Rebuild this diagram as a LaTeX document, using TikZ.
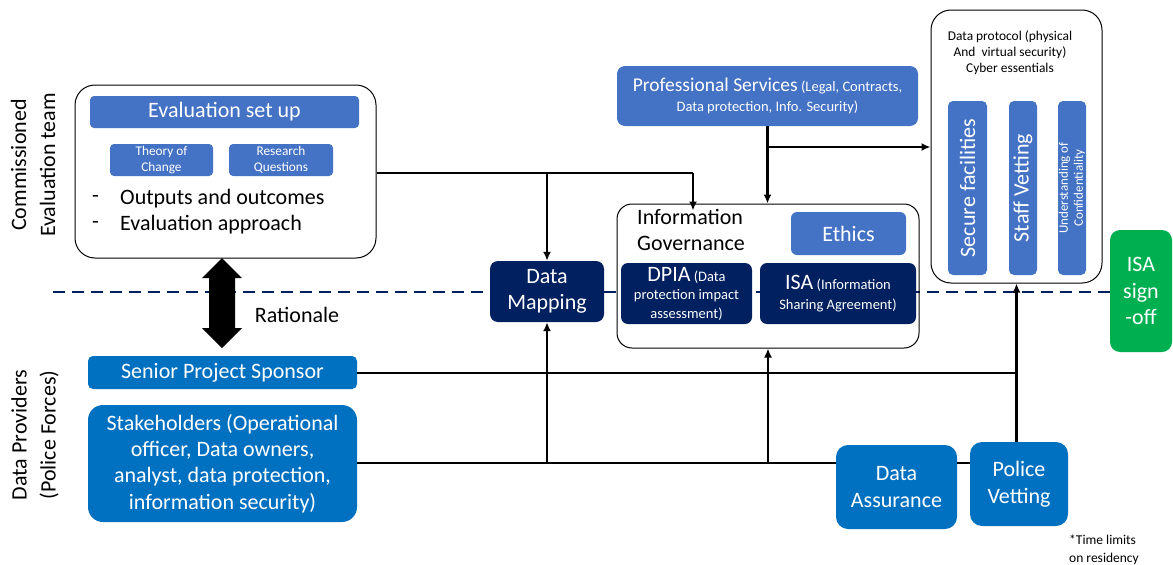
\documentclass[tikz,border=0pt]{standalone}
\usepackage{fontspec}
\setmainfont{Carlito}
\usetikzlibrary{arrows.meta}
\definecolor{mblue}{HTML}{4472C4}
\definecolor{pblue}{HTML}{0070C0}
\definecolor{navy}{HTML}{002060}
\definecolor{sgreen}{HTML}{00B050}
\newcommand\fsz[2]{\fontsize{#1}{#2}\selectfont}
\tikzset{
  box/.style={rectangle, rounded corners=#1, inner sep=0pt, align=center, text=white},
  box/.default=5pt,
  outline/.style={rectangle, draw=black, line width=1pt, fill=white, inner sep=0pt},
  conn/.style={line width=2.7pt, black},
  arr/.style={line width=2.7pt, black, -{Latex[length=9pt,width=8pt]}},
  plain/.style={inner sep=0pt, align=center, text=black},
}
\begin{document}
\begin{tikzpicture}[x=1pt,y=-1pt]
\useasboundingbox (0,0) rectangle (1173,565);
% dashed boundary
\coordinate (dl1) at (53,292);
\coordinate (dl2) at (1110,292);
\draw[navy, line width=2.5pt, dash pattern=on 12pt off 7pt] (dl1) -- (dl2);

% side labels
\node[plain, rotate=90, font=\fsz{22}{29}] (cet) at (33,165) {Commissioned\\Evaluation team};
\node[plain, rotate=90, font=\fsz{22}{29}] (dpl) at (35,435) {Data Providers\\(Police Forces)};

% evaluation team box
\node[outline, rounded corners=20pt, minimum width=301pt, minimum height=173pt] (eval) at (225.5,171.5) {};
\node[box=4pt, fill=mblue, minimum width=269pt, minimum height=32pt, font=\fsz{22}{26}] (esu) at (224.5,112) {Evaluation set up};
\node[box=4pt, fill=mblue, minimum width=103pt, minimum height=32pt, font=\fsz{13.3}{16.5}] (toc) at (161.5,160) {Theory of\\Change};
\node[box=4pt, fill=mblue, minimum width=104pt, minimum height=32pt, font=\fsz{13.3}{16.5}] (rq) at (281,160) {Research\\Questions};
\node[plain, anchor=west, font=\fsz{22}{26}] (d1) at (92,199) {-};
\node[plain, anchor=west, font=\fsz{22}{26}] (oo) at (120,199) {Outputs and outcomes};
\node[plain, anchor=west, font=\fsz{22}{26}] (d2) at (92,225) {-};
\node[plain, anchor=west, font=\fsz{22}{26}] (ea) at (120,225) {Evaluation approach};

% rationale double arrow
\fill[black] (222,258) -- (242,278) -- (235,278) -- (235,328) -- (242,328) -- (222,348)
  -- (202,328) -- (209,328) -- (209,278) -- (202,278) -- cycle;
\node[plain, font=\fsz{22}{26}] (rat) at (297,315) {Rationale};

% data providers
\node[box=5pt, fill=pblue, minimum width=269pt, minimum height=33pt, font=\fsz{22}{26}] (sps) at (222.5,372.5) {Senior Project Sponsor};
\node[box=15pt, fill=pblue, minimum width=269pt, minimum height=117pt, font=\fsz{22}{26.3}] (stk) at (222.5,463.5)
  {Stakeholders (Operational\\officer, Data owners,\\analyst, data protection,\\information security)};

% data mapping
\node[box=8pt, fill=navy, minimum width=114pt, minimum height=61pt, font=\fsz{22}{26.5}] (dm) at (547,291.5) {Data\\Mapping};

% information governance
\node[outline, fill=none, rounded corners=15pt, minimum width=302pt, minimum height=144pt] (ig) at (768,276) {};
\node[plain, anchor=west, align=left, font=\fsz{22}{26.5}] (igl) at (637,230) {Information\\Governance};
\node[box=6pt, fill=mblue, minimum width=115pt, minimum height=43pt, font=\fsz{22}{26}] (eth) at (848.5,233.5) {Ethics};
\node[box=7pt, fill=navy, minimum width=131pt, minimum height=61pt, font=\fsz{14.5}{18.5}] (dpia) at (686.5,293.5)
  {{\fsz{22}{20}DPIA} (Data\\protection impact\\assessment)};
\node[box=7pt, fill=navy, minimum width=156pt, minimum height=61pt, font=\fsz{14.5}{20}] (isa) at (838,293.5)
  {{\fsz{22}{20}ISA} (Information\\Sharing Agreement)};

% professional services
\node[box=8pt, fill=mblue, minimum width=301pt, minimum height=60pt, font=\fsz{14.5}{20}] (ps) at (767.5,96)
  {{\fsz{19.5}{20}Professional Services} (Legal, Contracts,\\Data protection, Info. Security)};

% data protocol
\node[outline, rounded corners=20pt, minimum width=171pt, minimum height=273pt] (prot) at (1016.5,146.5) {};
\node[plain, font=\fsz{13.4}{16}] (protl) at (1010,53) {Data protocol (physical\\And\ \ virtual security)\\Cyber essentials};
\node[box=5pt, fill=mblue, minimum width=174pt, minimum height=39pt, rotate=90, font=\fsz{22}{26}] (sf) at (967.5,188) {Secure facilities};
\node[box=5pt, fill=mblue, minimum width=174pt, minimum height=28pt, rotate=90, font=\fsz{22}{26}] (sv) at (1023,188) {Staff Vetting};
\node[box=5pt, fill=mblue, minimum width=174pt, minimum height=28pt, rotate=90, font=\fsz{13}{15}] (uc) at (1072,188) {Understanding of\\Confidentiality};

% ISA sign-off
\node[box=10pt, fill=sgreen, minimum width=62pt, minimum height=122pt, font=\fsz{22}{26.5}] (iso) at (1141,291) {ISA\\sign\\-off};

% assurance and vetting
\node[box=12pt, fill=pblue, minimum width=121pt, minimum height=84pt, font=\fsz{22}{27}] (da) at (896.5,487) {Data\\Assurance};
\node[box=12pt, fill=pblue, minimum width=98pt, minimum height=84pt, font=\fsz{22}{27}] (pv) at (1019,484) {Police\\Vetting};
\node[plain, anchor=west, align=left, font=\fsz{13.5}{18}] (tl) at (1069,550) {*Time limits\\on residency};

% connectors
\coordinate (t1) at (693,173);
\draw[conn] (eval.east |- t1) -- (t1);
\draw[arr] (t1) -- ([yshift=-7pt]t1 |- ig.north);
\draw[arr] (dm.north |- t1) -- (dm.north);
\draw[arr] (ps.south) -- (ps.south |- ig.north);
\coordinate (b1) at (767.5,147);
\draw[arr] (b1) -- (b1 -| prot.west);
\coordinate (s1) at (357,373);
\coordinate (s2) at (357,463);
\draw[conn] (s1) -- (s1 -| prot.south);
\draw[conn] (s2) -- (s2 -| da.west);
\draw[conn] (s2 -| da.east) -- (s2 -| pv.west);
\draw[arr] (prot.south |- pv.north) -- (prot.south);
\draw[arr] (s2 -| dm.south) -- (dm.south);
\draw[arr] (s2 -| ig.south) -- (ig.south);
\end{tikzpicture}
\end{document}
